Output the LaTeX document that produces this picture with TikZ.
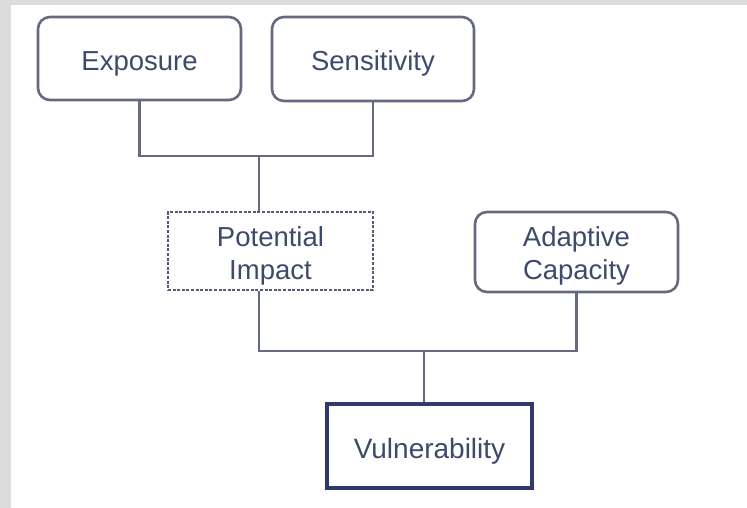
\documentclass[tikz,border=0pt]{standalone}
\usepackage{fontspec}
\setmainfont{Liberation Sans}
\definecolor{txt}{HTML}{3D4A6B}
\definecolor{bord}{HTML}{656A80}
\definecolor{dbord}{HTML}{555B75}
\definecolor{navy}{HTML}{2E3A6E}
\definecolor{strip}{HTML}{DCDCDC}
\newcommand{\topstrut}{\rule{0pt}{30pt}}
\begin{document}
\begin{tikzpicture}[x=1pt,y=-1pt,
  box/.style={draw=bord,line width=2.6pt,rounded corners=12pt,text=txt,
    font=\fontsize{27.5}{33}\selectfont,align=center,inner sep=0pt},
  dbox/.style={draw=dbord,line width=2.6pt,dash pattern=on 3pt off 1.6pt,text=txt,
    font=\fontsize{27.5}{33}\selectfont,align=center,inner sep=0pt},
  vbox/.style={draw=navy,line width=3.8pt,text=txt,
    font=\fontsize{28}{33}\selectfont,align=center,inner sep=0pt},
  one/.style={text height=29pt,text depth=5pt},
  conn/.style={draw=bord,line width=2.6pt}]
\useasboundingbox (0,0) rectangle (747,508);
\fill[white] (0,0) rectangle (747,508);
\fill[strip] (0,0) rectangle (11,508);
\fill[strip] (0,0) rectangle (747,5);
\node[box,one,minimum width=203pt,minimum height=83pt] (ex) at (139.5,58.5) {Exposure};
\node[box,one,minimum width=202pt,minimum height=84pt] (se) at (373,59) {Sensitivity};
\node[dbox,minimum width=205pt,minimum height=78pt] (pi) at (270.5,251) {\topstrut Potential\\Impact};
\node[box,minimum width=203pt,minimum height=80pt] (ac) at (576.5,252) {\rule{0pt}{28pt}Adaptive\\Capacity};
\node[vbox,one,minimum width=205pt,minimum height=84pt] (vu) at (429.5,446) {Vulnerability};
\coordinate (j1) at (259,156);
\coordinate (j2) at (424,351);
\draw[conn] (ex.south) |- (j1) -| (se.south);
\draw[conn] (j1) -- (j1 |- pi.north);
\draw[conn] (pi.south -| j1) |- (j2) -| (ac.south);
\draw[conn] (j2) -- (j2 |- vu.north);
\end{tikzpicture}
\end{document}
